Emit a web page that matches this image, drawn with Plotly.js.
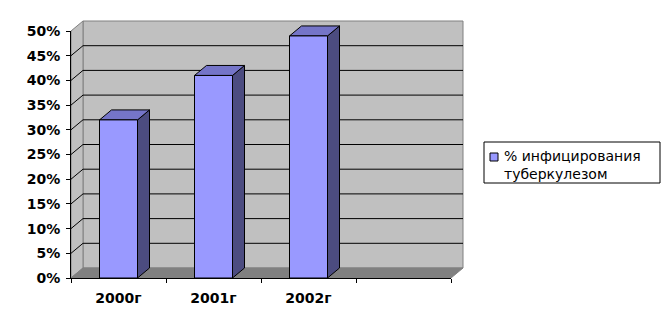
<!DOCTYPE html>
<html>
<head>
<meta charset="utf-8">
<script src="https://cdn.plot.ly/plotly-3.0.1.min.js"></script>
<style>html,body{margin:0;padding:0;background:#fff;}#chart{width:671px;height:328px;}</style>
</head>
<body>
<div id="chart"></div>
<script>
// ---- data ----
const categories = ['2000г', '2001г', '2002г'];
const values = [0.32, 0.41, 0.49];
const seriesName = '% инфицирования<br>туберкулезом';
const yMax = 0.5;
const yStep = 0.05;
const slotCount = 4;

// ---- layout geometry ----
const W = 671, H = 328;
const M = {l: 71, r: 220, t: 31, b: 50};
const plotW = W - M.l - M.r, plotH = H - M.t - M.b;
const depthX = 12 / plotW, depthY = 10 / plotH;   // 3D depth in domain fractions
const xr = [-0.5, slotCount - 0.5];
const yr = [0, yMax];
const barWidth = 0.4;
const xd = x => (x - xr[0]) / (xr[1] - xr[0]);
const yd = v => (v - yr[0]) / (yr[1] - yr[0]);
const px2x = p => (p - M.l) / plotW;
const px2y = p => (H - M.b - p) / plotH;

const FRONT = '#9999ff', TOP = '#7575c8', SIDE = '#4c4c80';
const WALL = '#c0c0c0', FLOOR = '#808080', EDGE = '#808080';

const shapes = [];
const dom = {xref: 'x domain', yref: 'y domain', layer: 'below'};
function poly(pts) { return 'M' + pts.map(p => p[0] + ',' + p[1]).join('L') + 'Z'; }

// back wall
shapes.push(Object.assign({type: 'rect', x0: depthX, x1: 1 + depthX, y0: depthY, y1: 1 + depthY,
  fillcolor: WALL, line: {color: EDGE, width: 1}}, dom));
// left wall
shapes.push(Object.assign({type: 'path', path: poly([[0, 0], [depthX, depthY], [depthX, 1 + depthY], [0, 1]]),
  fillcolor: WALL, line: {color: EDGE, width: 1}}, dom));
// floor
shapes.push(Object.assign({type: 'path', path: poly([[0, 0], [1, 0], [1 + depthX, depthY], [depthX, depthY]]),
  fillcolor: FLOOR, line: {color: EDGE, width: 1}}, dom));
// gridlines (back wall + left wall)
for (let v = yStep; v < yMax - 1e-9; v += yStep) {
  const y = yd(v);
  shapes.push(Object.assign({type: 'line', x0: depthX, x1: 1 + depthX, y0: y + depthY, y1: y + depthY,
    line: {color: '#000', width: 1}}, dom));
  shapes.push(Object.assign({type: 'line', x0: 0, x1: depthX, y0: y, y1: y + depthY,
    line: {color: '#000', width: 1}}, dom));
}
// bar tops and sides
values.forEach((v, i) => {
  const xL = xd(i - barWidth / 2), xR = xd(i + barWidth / 2), yT = yd(v);
  shapes.push(Object.assign({type: 'path', path: poly([[xR, 0], [xR, yT], [xR + depthX, yT + depthY], [xR + depthX, depthY]]),
    fillcolor: SIDE, line: {color: '#000', width: 1}}, dom));
  shapes.push(Object.assign({type: 'path', path: poly([[xL, yT], [xR, yT], [xR + depthX, yT + depthY], [xL + depthX, yT + depthY]]),
    fillcolor: TOP, line: {color: '#000', width: 1}}, dom));
});

// custom legend (box + swatch)
shapes.push({type: 'rect', xref: 'paper', yref: 'paper', x0: px2x(484), x1: px2x(660), y0: px2y(183), y1: px2y(142),
  fillcolor: '#fff', line: {color: '#000', width: 1}, layer: 'above'});
shapes.push({type: 'rect', xref: 'paper', yref: 'paper', x0: px2x(490), x1: px2x(498), y0: px2y(161), y1: px2y(153),
  fillcolor: FRONT, line: {color: '#000', width: 1}, layer: 'above'});

const FONT = 'DejaVu Sans, Liberation Sans, Arial, sans-serif';

const trace = {
  type: 'bar',
  x: categories.map((c, i) => i),
  y: values,
  width: barWidth,
  name: seriesName,
  marker: {color: FRONT, line: {color: '#000', width: 1}},
  hoverinfo: 'skip',
  showlegend: false
};

const layout = {
  width: W, height: H,
  margin: M,
  paper_bgcolor: '#fff',
  plot_bgcolor: 'rgba(0,0,0,0)',
  showlegend: false,
  xaxis: {
    range: xr, fixedrange: true,
    tickvals: categories.map((c, i) => i), ticktext: categories,
    ticks: '', showgrid: false, zeroline: false,
    showline: true, linecolor: '#000', linewidth: 1,
    tickfont: {family: FONT, size: 14, color: '#000', weight: 'bold'},
    ticklabelstandoff: 7,
    minor: {tickvals: Array.from({length: slotCount + 1}, (_, k) => k - 0.5), ticks: 'outside', ticklen: 4, tickcolor: '#000', showgrid: false}
  },
  yaxis: {
    range: yr, fixedrange: true, dtick: yStep, tick0: 0,
    tickformat: '.0%',
    ticks: 'outside', ticklen: 4, tickcolor: '#000',
    showgrid: false, zeroline: false,
    showline: true, linecolor: '#000', linewidth: 1,
    ticklabelstandoff: 3,
    tickfont: {family: FONT, size: 14, color: '#000', weight: 'bold'}
  },
  shapes: shapes,
  annotations: [{
    xref: 'paper', yref: 'paper', x: px2x(502), y: px2y(165), xanchor: 'left', yanchor: 'middle',
    text: seriesName, showarrow: false, align: 'left',
    font: {family: FONT, size: 14, color: '#000'}
  }]
};

Plotly.newPlot('chart', [trace], layout, {staticPlot: true, displayModeBar: false});
</script>
</body>
</html>
